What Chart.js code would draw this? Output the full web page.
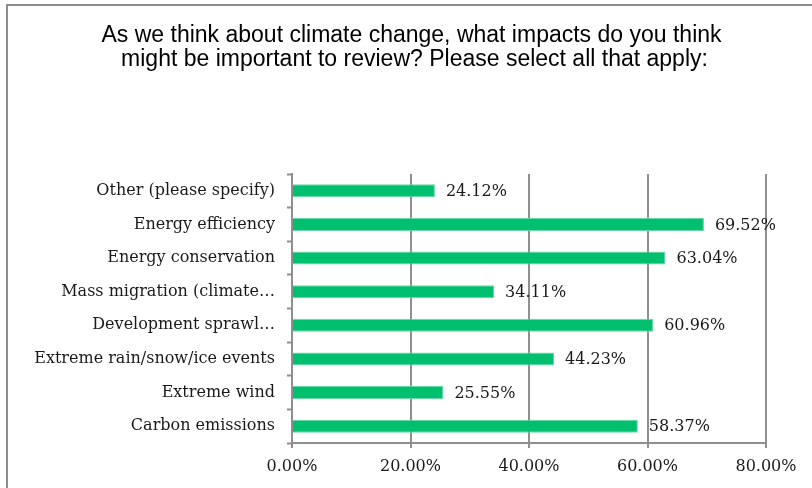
<!DOCTYPE html>
<html>
<head>
<meta charset="utf-8">
<script src="https://cdn.jsdelivr.net/npm/chart.js@4.4.1/dist/chart.umd.min.js"></script>
<style>
  html, body { margin: 0; padding: 0; background: #ffffff; }
  #wrap { position: relative; width: 812px; height: 488px; }
</style>
</head>
<body>
<div id="wrap"><canvas id="c"></canvas></div>
<script>
const titleLines = [
  "As we think about climate change, what impacts do you think",
  "might be important to review? Please select all that apply:"
];
const categories = [
  "Other (please specify)",
  "Energy efficiency",
  "Energy conservation",
  "Mass migration (climate\u2026",
  "Development sprawl\u2026",
  "Extreme rain/snow/ice events",
  "Extreme wind",
  "Carbon emissions"
];
const values = [24.12, 69.52, 63.04, 34.11, 60.96, 44.23, 25.55, 58.37];
const xTickValues = [0, 20, 40, 60, 80];

const serif = "'DejaVu Serif', 'Liberation Serif', serif";
const GRID = '#8f8f8f';

const frameAndTitle = {
  id: 'frameAndTitle',
  beforeDraw(chart) {
    const ctx = chart.ctx;
    ctx.save();
    ctx.fillStyle = '#ffffff';
    ctx.fillRect(0, 0, chart.width, chart.height);
    ctx.fillStyle = '#8c8c8c';
    ctx.fillRect(6, 4, chart.width - 6, 2);
    ctx.fillRect(6, 4, 2, chart.height - 4);
    ctx.restore();
  },
  afterDraw(chart) {
    const ctx = chart.ctx;
    ctx.save();
    ctx.fillStyle = '#000000';
    ctx.font = "23px 'Liberation Sans', Arial, sans-serif";
    ctx.textAlign = 'center';
    ctx.textBaseline = 'alphabetic';
    ctx.fillText(titleLines[0], 411.5, 41.5);
    ctx.fillText(titleLines[1], 414.5, 65.5);
    ctx.restore();
  }
};

const valueLabels = {
  id: 'valueLabels',
  afterDatasetsDraw(chart) {
    const ctx = chart.ctx;
    const meta = chart.getDatasetMeta(0);
    ctx.save();
    ctx.fillStyle = '#1a1a1a';
    ctx.font = "16px " + serif;
    ctx.textAlign = 'left';
    ctx.textBaseline = 'middle';
    meta.data.forEach((bar, i) => {
      ctx.fillText(values[i].toFixed(2) + '%', bar.x + 11, bar.y + 1);
    });
    ctx.restore();
  }
};

new Chart(document.getElementById('c'), {
  type: 'bar',
  data: {
    labels: categories,
    datasets: [{
      data: values,
      backgroundColor: '#00bf6f',
      borderColor: '#66d9a4',
      borderWidth: 1,
      barPercentage: 0.39,
      categoryPercentage: 1.0
    }]
  },
  options: {
    indexAxis: 'y',
    responsive: true,
    maintainAspectRatio: false,
    animation: false,
    layout: { padding: { top: 174, right: 46, left: 0, bottom: 0 } },
    plugins: {
      legend: { display: false },
      title: { display: false },
      tooltip: { enabled: false }
    },
    scales: {
      x: {
        min: 0,
        max: 80,
        afterBuildTicks(scale) {
          scale.ticks = xTickValues.map(v => ({ value: v }));
        },
        afterFit(scale) { scale.height = 45; },
        grid: {
          color: GRID,
          lineWidth: 2,
          drawTicks: true,
          tickLength: 5,
          tickColor: GRID
        },
        border: { color: GRID, width: 2 },
        ticks: {
          padding: 9,
          color: '#1a1a1a',
          font: { family: serif, size: 16 },
          callback: v => Number(v).toFixed(2) + '%'
        }
      },
      y: {
        afterFit(scale) { scale.width = 292; },
        grid: {
          drawOnChartArea: false,
          drawTicks: true,
          tickLength: 5,
          tickColor: GRID,
          tickWidth: 2,
          offset: true
        },
        border: { color: GRID, width: 2 },
        ticks: {
          padding: 12,
          color: '#1a1a1a',
          font: { family: serif, size: 16 },
          autoSkip: false
        }
      }
    }
  },
  plugins: [frameAndTitle, valueLabels]
});
</script>
</body>
</html>
